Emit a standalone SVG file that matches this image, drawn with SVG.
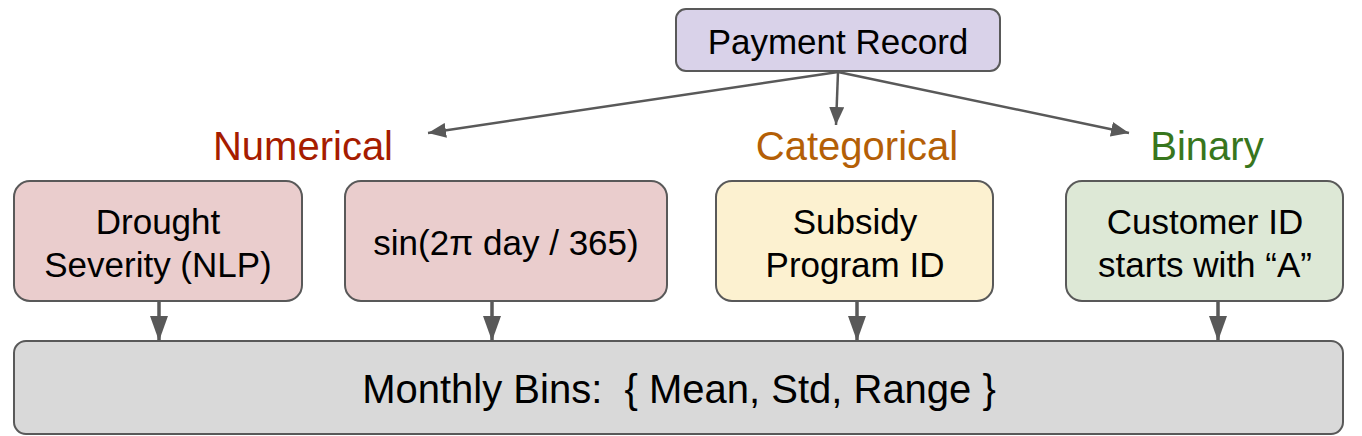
<svg xmlns="http://www.w3.org/2000/svg" width="1362" height="436" viewBox="0 0 1362 436">
<defs>
<marker id="arr" viewBox="0 0 18 15" refX="18" refY="7.5" markerWidth="18" markerHeight="15" orient="auto" markerUnits="userSpaceOnUse">
<path d="M0,0 L18,7.5 L0,15 Z" fill="#595959"/>
</marker>
<marker id="arrv" viewBox="0 0 25 18" refX="25" refY="9" markerWidth="25" markerHeight="18" orient="auto" markerUnits="userSpaceOnUse">
<path d="M0,0 L25,9 L0,18 Z" fill="#595959"/>
</marker>
<style>
.box{stroke:#595959;stroke-width:2}
.t{font-family:"Liberation Sans",Arial,sans-serif;fill:#000;text-anchor:middle}
.n{font-size:35px}
.h{font-family:"Liberation Sans",Arial,sans-serif;font-size:40px;text-anchor:middle}
.c{stroke:#595959;stroke-width:2.5;fill:none;marker-end:url(#arr)}
.v{stroke:#595959;stroke-width:3.5;fill:none;marker-end:url(#arrv)}
</style>
</defs>
<rect width="1362" height="436" fill="#fff"/>
<g id="payment">
<rect class="box" x="676" y="9" width="324" height="62" rx="10" fill="#d9d2e9"/>
<text class="t n" x="838" y="54">Payment Record</text>
</g>
<g id="lbl-numerical"><text class="h" x="303" y="160" fill="#a61c00">Numerical</text></g>
<g id="lbl-categorical"><text class="h" x="857" y="160" fill="#b45f06">Categorical</text></g>
<g id="lbl-binary"><text class="h" x="1207" y="160" fill="#38761d">Binary</text></g>
<g id="drought">
<rect class="box" x="14" y="181" width="288" height="120" rx="16" fill="#eacdcd"/>
<text class="t n" x="158" y="234">Drought</text>
<text class="t n" x="158" y="277">Severity (NLP)</text>
</g>
<g id="sin">
<rect class="box" x="345" y="181" width="322" height="120" rx="16" fill="#eacdcd"/>
<text class="t n" x="506" y="255">sin(2π day / 365)</text>
</g>
<g id="subsidy">
<rect class="box" x="716" y="181" width="277" height="120" rx="16" fill="#fcf1d0"/>
<text class="t n" x="855" y="234">Subsidy</text>
<text class="t n" x="855" y="277">Program ID</text>
</g>
<g id="customer">
<rect class="box" x="1066" y="181" width="277" height="120" rx="16" fill="#dde8d6"/>
<text class="t n" x="1205" y="234">Customer ID</text>
<text class="t n" x="1205" y="277">starts with “A”</text>
</g>
<g id="bins">
<rect class="box" x="14" y="341" width="1329" height="93" rx="12" fill="#d9d9d9"/>
<text class="t" x="679" y="403" style="font-size:40px" xml:space="preserve">Monthly Bins:  { Mean, Std, Range }</text>
</g>
<g id="connectors">
<line class="c" x1="838" y1="72" x2="428" y2="133"/>
<line class="c" x1="838" y1="72" x2="836" y2="125"/>
<line class="c" x1="838" y1="72" x2="1129" y2="133"/>
<line class="v" x1="159" y1="302" x2="159" y2="341"/>
<line class="v" x1="492" y1="302" x2="492" y2="341"/>
<line class="v" x1="857" y1="302" x2="857" y2="341"/>
<line class="v" x1="1218" y1="302" x2="1218" y2="341"/>
</g>
</svg>
